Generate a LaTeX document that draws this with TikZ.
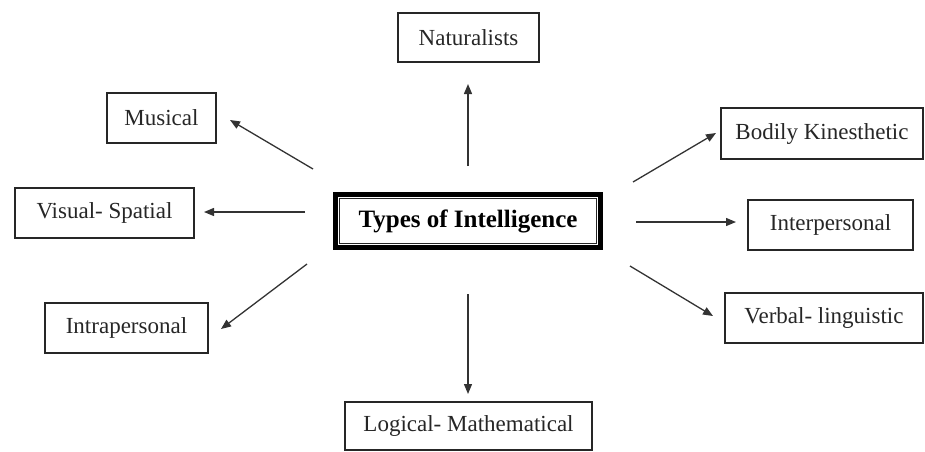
\documentclass[tikz,border=0pt]{standalone}
\usepackage{fontspec}
\setmainfont{Liberation Serif}
\usetikzlibrary{arrows.meta}
\begin{document}
\begin{tikzpicture}[x=1pt,y=-1pt,
  box/.style={draw=black!85,line width=1.2pt,inner sep=0pt,
    font=\fontsize{23}{27}\selectfont,text=black!85},
  conn/.style={draw=black!80,line width=1.3pt,-{Triangle[length=10pt,width=8pt]}}]
\useasboundingbox (0,0) rectangle (925,451);
% center
\node[draw=black,line width=5pt,minimum width=265pt,minimum height=53pt,inner sep=0pt,
  font=\fontsize{25}{30}\selectfont\bfseries] (c) at (468,221) {Types of Intelligence};
\draw[line width=1.2pt,black!85] ([shift={(6.5pt,-6.5pt)}]c.north west) rectangle ([shift={(-6.5pt,6.5pt)}]c.south east);
% boxes
\node[box,minimum width=141pt,minimum height=49pt] (nat) at (468.5,37.5) {Naturalists};
\node[box,minimum width=109pt,minimum height=50pt] (mus) at (161.5,118) {Musical};
\node[box,minimum width=179pt,minimum height=50pt] (vis) at (104.5,213) {Visual- Spatial};
\node[box,minimum width=163pt,minimum height=50pt] (intra) at (126.5,328) {Intrapersonal};
\node[box,minimum width=247pt,minimum height=48pt] (log) at (468.5,426) {Logical- Mathematical};
\node[box,minimum width=202pt,minimum height=51pt] (bod) at (822,133.5) {Bodily Kinesthetic};
\node[box,minimum width=165pt,minimum height=50pt] (inter) at (830.5,225) {Interpersonal};
\node[box,minimum width=198pt,minimum height=50pt] (verb) at (824,318) {Verbal- linguistic};
% arrow ends
\coordinate (natA) at (468,166); \coordinate (natB) at (468,84);
\coordinate (musA) at (313,169); \coordinate (musB) at (230,120);
\coordinate (visA) at (305,212); \coordinate (visB) at (204,212);
\coordinate (intraA) at (307,264); \coordinate (intraB) at (221,329);
\coordinate (logA) at (468,294); \coordinate (logB) at (468,394);
\coordinate (bodA) at (633,182); \coordinate (bodB) at (716,133);
\coordinate (interA) at (636,222); \coordinate (interB) at (736,222);
\coordinate (verbA) at (630,266); \coordinate (verbB) at (713,316);
\foreach \n in {nat,mus,vis,intra,log,bod,inter,verb}{
  \draw[conn] (\n A) -- (\n B);
}
\end{tikzpicture}
\end{document}
